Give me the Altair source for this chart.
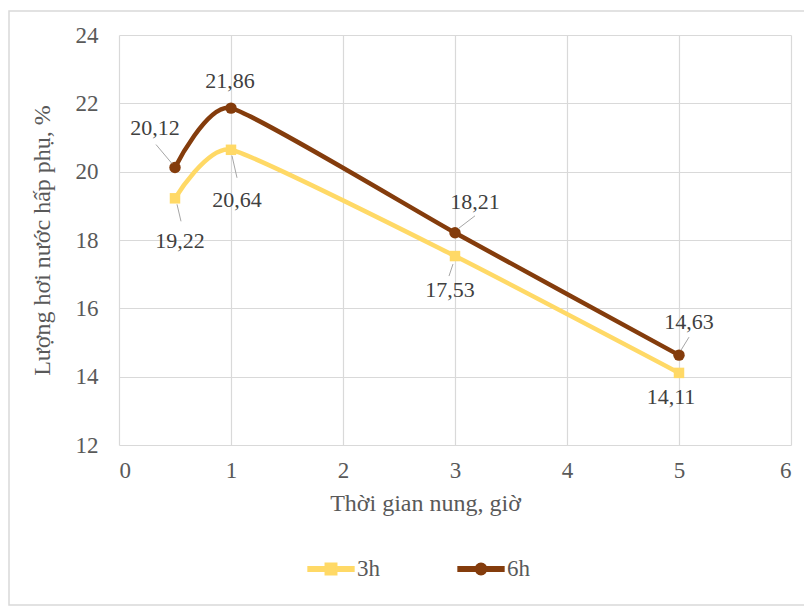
import altair as alt
import pandas as pd

# ---- data ----
x_hours = [0.5, 1, 3, 5]
series_names = ["3h", "6h"]
vals_3h = [19.22, 20.64, 17.53, 14.11]
vals_6h = [20.12, 21.86, 18.21, 14.63]
x_ticks = [0, 1, 2, 3, 4, 5, 6]
y_ticks = [12, 14, 16, 18, 20, 22, 24]
colors = ["#FFD966", "#843C0C"]

# label offsets (pixels) for each point: order 3h..., 6h...
lab_dx = [5, 6, -5, -8, -20, -1, 20, 10]
lab_dy = [43, 50, 34, 24, -40, -27, -31, -33]
# leader lines (pixel offsets from point): start(dx,dy) end(dx,dy); None = no leader
leaders = [(2, 6, 6, 23), (1, 6, 6, 28), (-2, 8, -6, 20), None,
           (-19, -23, -3, -4), None, (3, -4, 20, -17), (2, -5, 10, -18)]

rows = []
for s, vals in zip(series_names, [vals_3h, vals_6h]):
    for xv, yv in zip(x_hours, vals):
        rows.append({"x": xv, "y": yv, "series": s,
                     "label": f"{yv:.2f}".replace(".", ",")})
df = pd.DataFrame(rows)

FONT = "Liberation Serif, Times New Roman, DejaVu Serif, serif"
TXT = "#595959"

xscale = alt.Scale(domain=[0, 6], nice=False, zero=False)
yscale = alt.Scale(domain=[12, 24], nice=False, zero=False)
cscale = alt.Scale(domain=series_names, range=colors)

X = alt.X("x:Q", scale=xscale,
          axis=alt.Axis(values=x_ticks, title="Thời gian nung, giờ",
                        labelPadding=14, titlePadding=9, format="d",
                        titleX=306, titleAlign="center", titleFontSize=24))
Y = alt.Y("y:Q", scale=yscale,
          axis=alt.Axis(values=y_ticks, title="Lượng hơi nước hấp phụ, %",
                        labelPadding=21, titlePadding=21, format="d",
                        titleFontSize=24))
Xs = alt.X("x:Q", scale=xscale)
Ys = alt.Y("y:Q", scale=yscale)

base = alt.Chart(df)

lines = base.mark_line(interpolate="cardinal", tension=0.5, strokeWidth=4.5).encode(
    x=X, y=Y, color=alt.Color("series:N", scale=cscale, legend=None),
    detail="series:N")

pts_sq = base.transform_filter(alt.datum.series == series_names[0]).mark_square(
    size=110, opacity=1).encode(
    x=Xs, y=Ys, color=alt.Color("series:N", scale=cscale, legend=None))
pts_ci = base.transform_filter(alt.datum.series == series_names[1]).mark_circle(
    size=130, opacity=1).encode(
    x=Xs, y=Ys, color=alt.Color("series:N", scale=cscale, legend=None))

# legend-only layer (no marks drawn)
sq_path = "M-1,-0.1H1V0.1H-1Z M-0.25,-0.25H0.25V0.25H-0.25Z"
ci_path = "M-1,-0.1H1V0.1H-1Z M0.25,0A0.25,0.25 0 1,1 -0.25,0A0.25,0.25 0 1,1 0.25,0Z"
leg = alt.Legend(title=None, orient="none", direction="horizontal",
                 legendX=188, legendY=510, symbolSize=2100,
                 columnPadding=75, labelOffset=2,
                 labelFont=FONT, labelFontSize=23, labelColor=TXT,
                 symbolOpacity=1)
legend_layer = alt.Chart(df).transform_filter("datum.x < -100").mark_point(filled=True).encode(
    x=Xs, y=Ys,
    color=alt.Color("series:N", scale=cscale, legend=leg),
    shape=alt.Shape("series:N", scale=alt.Scale(domain=series_names, range=[sq_path, ci_path]),
                    legend=leg))

layers = [lines, pts_sq, pts_ci]
for i in range(len(df)):
    one = df.iloc[[i]]
    lead = leaders[i]
    if lead is not None:
        layers.append(alt.Chart(one).mark_rule(
            color="#A6A6A6", strokeWidth=1,
            xOffset=lead[0], yOffset=lead[1], x2Offset=lead[2], y2Offset=lead[3]
        ).encode(x=Xs, y=Ys, x2="x:Q", y2="y:Q"))
    layers.append(alt.Chart(one).mark_text(
        dx=lab_dx[i], dy=lab_dy[i], font=FONT, fontSize=22, color="#404040",
        baseline="middle", align="center"
    ).encode(x=Xs, y=Ys, text="label:N"))

border = alt.Chart(pd.DataFrame({"a": [0]})).mark_rect(
    fill=None, stroke="#D9D9D9", strokeWidth=1.5
).encode(x=alt.value(-110), x2=alt.value(700), y=alt.value(-24), y2=alt.value(570))

chart = alt.layer(border, legend_layer, *layers).properties(
    width=672, height=410,
    autosize=alt.AutoSizeParams(type="none"),
    padding={"left": 119, "top": 35, "right": 13, "bottom": 163},
    background="white",
).configure_view(strokeWidth=0).configure_axis(
    labelFont=FONT, labelFontSize=23, labelColor=TXT,
    titleFont=FONT, titleFontSize=23, titleColor=TXT, titleFontWeight="normal",
    gridColor="#D9D9D9", gridWidth=1.2, domain=False, ticks=False,
)

chart.save("out.html", embed_options={"renderer": "svg", "actions": False})
